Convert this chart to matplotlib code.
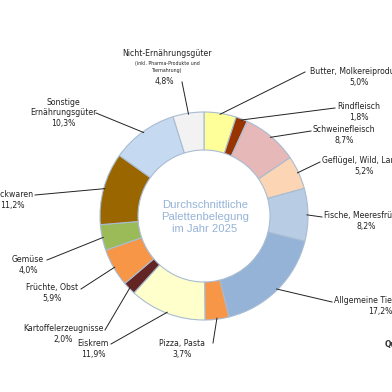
import numpy as np
import matplotlib
matplotlib.use("Agg")
import matplotlib.pyplot as plt

# ── data ────────────────────────────────────────────────────────────
categories = [
    "Butter, Molkereiprodukte", "Rindfleisch", "Schweinefleisch",
    "Geflügel, Wild, Lamm", "Fische, Meeresfrüchte", "Allgemeine Tiefkühlkost",
    "Pizza, Pasta", "Eiskrem", "Kartoffelerzeugnisse", "Früchte, Obst",
    "Gemüse", "Backwaren", "Sonstige\nErnährungsgüter", "Nicht-Ernährungsgüter",
]
shares = [5.0, 1.8, 8.7, 5.2, 8.2, 17.2, 3.7, 11.9, 2.0, 5.9, 4.0, 11.2, 10.3, 4.8]
colors = [
    "#ffff99", "#993300", "#e6b8b7", "#fcd5b4", "#b8cce4", "#95b3d7",
    "#f79646", "#ffffcc", "#632523", "#f79646", "#9bbb59", "#996600",
    "#c5d9f1", "#f2f2f2",
]
note = "(inkl. Pharma-Produkte und\nTiernahrung)"

# label anchor (x, y of first text line in px from top-left) and alignment
label_pos = [
    (310, 71, "left"), (337, 106, "left"), (313, 129, "left"), (322, 160, "left"),
    (324, 215, "left"), (334, 300, "left"), (182, 343, "center"), (93, 343, "center"),
    (63, 328, "center"), (52, 287, "center"), (28, 259, "center"), (12, 194, "center"),
    (63, 102, "center"), (167, 53, "center"),
]
# where each leader line meets its label
line_start = [
    (305, 72), (335, 108), (311, 131), (320, 162), (322, 217), (332, 302),
    (213, 343), (111, 344), (105, 330), (81, 289), (47, 260), (35, 195),
    (96, 113), (182, 82),
]

H = 392
cx, cy, R = 204, 216, 104

fig = plt.figure(figsize=(3.92, 3.92), dpi=100)
ax = fig.add_axes([0, 0, 1, 1])

wedges, _ = ax.pie(
    shares, colors=colors, startangle=90, counterclock=False,
    radius=R, center=(cx, H - cy),
    wedgeprops=dict(width=38, edgecolor="#a9bcd2", linewidth=0.8),
)
ax.set_xlim(0, 392)
ax.set_ylim(0, 392)
ax.set_aspect("equal")
ax.axis("off")

lbl = dict(fontsize=5.6, color="#222222", family="DejaVu Sans",
           linespacing=1.1, multialignment="center")

for w, name, val, (tx, ty, ha), (lx, ly) in zip(
        wedges, categories, shares, label_pos, line_start):
    mid = np.deg2rad((w.theta1 + w.theta2) / 2)
    px = cx + (R - 1) * np.cos(mid)
    py = (H - cy) + (R - 1) * np.sin(mid)
    ax.plot([lx, px], [H - ly, py], color="#222222", lw=0.7)
    pct = f"{val:.1f}".replace(".", ",") + "%"
    t = ax.text(tx, H - ty + 4, name, ha=ha, va="top", **lbl)
    if name.startswith("Nicht"):
        n = ax.annotate(note, xy=(0.5, 0), xycoords=t, xytext=(0, -2.2),
                        textcoords="offset points", ha="center", va="top",
                        fontsize=3.4, color="#222222", linespacing=1.5)
        ax.annotate(pct, xy=(0.5, 0), xycoords=n, xytext=(-2, -2.5),
                    textcoords="offset points", ha="center", va="top", **lbl)
    else:
        ax.annotate(pct, xy=(0.5, 0), xycoords=t, xytext=(0, -1.5),
                    textcoords="offset points", ha="center", va="top", **lbl)

ax.text(cx + 1, H - 217, "Durchschnittliche\nPalettenbelegung\nim Jahr 2025",
        ha="center", va="center", fontsize=8.1, color="#95b3d7",
        family="Liberation Sans", linespacing=1.22)

ax.text(385, H - 345, "Quelle", ha="left", va="center", fontsize=5.5,
        color="#333333", fontweight="bold")

fig.savefig("out.png", dpi=100)
